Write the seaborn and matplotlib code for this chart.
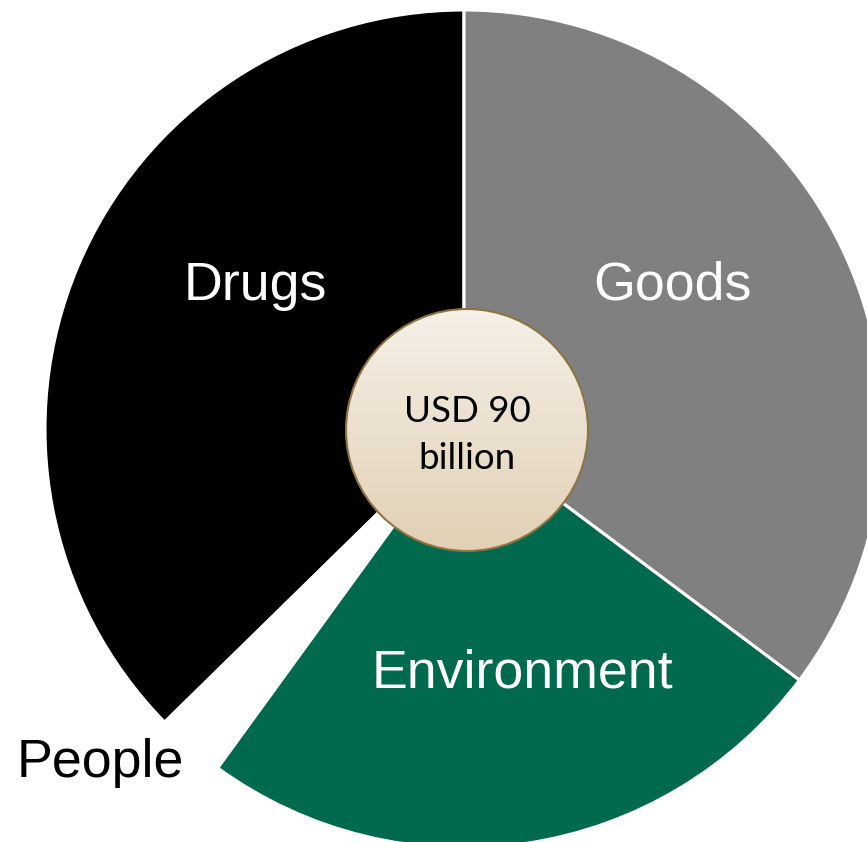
import numpy as np
import matplotlib
matplotlib.use("Agg")
import matplotlib.pyplot as plt
from matplotlib.patches import Circle
from matplotlib.colors import LinearSegmentedColormap
import seaborn as sns

# Illicit flows by category, USD billion (total 90)
categories = ["Drugs", "People", "Environment", "Goods"]
values = [33.6, 2.4, 22.3, 31.7]
slice_colors = ["#000000", "#FFFFFF", "#00694E", "#808080"]
label_colors = ["white", "black", "white", "white"]
center_text = "USD 90\nbillion"

sns.set_theme(style="white")
plt.rcParams["font.family"] = ["Liberation Sans", "DejaVu Sans"]

W, H = 867, 842
fig = plt.figure(figsize=(W / 100, H / 100), dpi=100)
ax = fig.add_axes([0, 0, 1, 1])

cx, cy, R = 464, H - 429, 419
wedges, _ = ax.pie(values, colors=slice_colors, startangle=90, counterclock=True,
                   center=(cx, cy), radius=R, frame=True,
                   wedgeprops=dict(edgecolor="white", linewidth=2.2))
ax.set_aspect("equal")
ax.axis("off")

# Category labels
label_pos = {"Drugs": (255, 286), "Goods": (672, 286),
             "Environment": (522, 674), "People": (100, 763)}
for cat, col in zip(categories, label_colors):
    x, y = label_pos[cat]
    ax.text(x, H - y, cat, color=col, fontsize=38.7, ha="center", va="center")

# Central badge with a soft vertical gradient
bx, by, br = 467, H - 430, 121
cmap = LinearSegmentedColormap.from_list("badge", ["#F6F0E8", "#E1D0B5"])
grad = np.linspace(0, 1, 256).reshape(-1, 1)
img = ax.imshow(grad, cmap=cmap, extent=(bx - br, bx + br, by - br, by + br),
                origin="upper", aspect="auto", zorder=3)
clip = Circle((bx, by), br, transform=ax.transData)
img.set_clip_path(clip)
ax.add_patch(Circle((bx, by), br, facecolor="none", edgecolor="#8C7444",
                    linewidth=1.5, zorder=4))
ax.text(bx, by - 5, center_text, ha="center", va="center", fontsize=26.5,
        family=["Lato", "DejaVu Sans"], linespacing=1.55, color="black", zorder=5)

ax.set_xlim(0, W)
ax.set_ylim(0, H)
ax.set_aspect("equal")
fig.savefig("out.png", dpi=100)
